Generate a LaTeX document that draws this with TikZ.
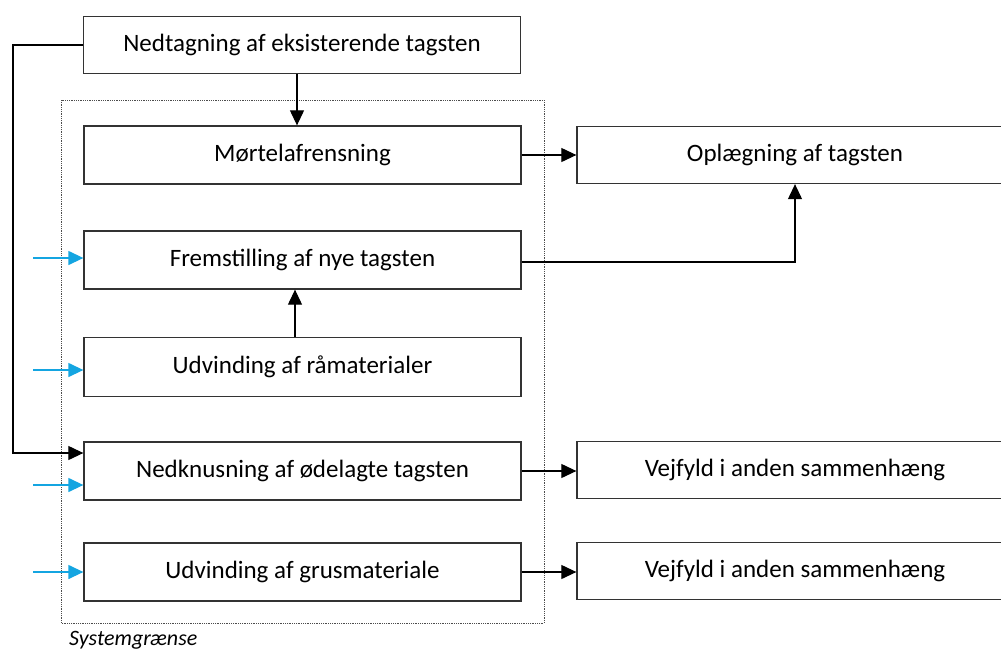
\documentclass[tikz,border=0pt]{standalone}
\usepackage{fontspec}
\setmainfont{Carlito}
\usetikzlibrary{arrows.meta}
\definecolor{inblue}{RGB}{20,165,225}
\tikzset{
  proc/.style={draw=black!80, line width=1.3pt, rectangle, inner sep=0pt, font=\fontsize{25}{30}\selectfont},
  flow/.style={draw=black, line width=1.1pt, -{Triangle[length=15pt,width=14pt]}},
  inflow/.style={draw=inblue, line width=1.3pt, -{Triangle[length=15pt,width=14pt]}},
  sysb/.style={draw=black!70, line width=0.8pt, densely dotted},
}
\begin{document}
\begin{tikzpicture}[x=1pt,y=-1pt]
\useasboundingbox (0,0) rectangle (1001,651);
\clip (0,0) rectangle (1001,651);
% system boundary
\draw[sysb] (61,100) rectangle (544,623);
\node[anchor=north west, inner sep=0pt, font=\fontsize{22}{26}\selectfont\itshape] (sg) at (69,631) {Systemgrænse};
% boxes
\node[proc, minimum width=437pt, minimum height=57pt] (ned) at (302,45) {Nedtagning af eksisterende tagsten};
\node[proc, minimum width=437pt, minimum height=58pt] (mor) at (302.5,155) {Mørtelafrensning};
\node[proc, minimum width=437pt, minimum height=58pt] (fre) at (302.5,260) {Fremstilling af nye tagsten};
\node[proc, minimum width=437pt, minimum height=59pt] (udr) at (302.5,367) {Udvinding af råmaterialer};
\node[proc, minimum width=437pt, minimum height=58pt] (nek) at (302.5,471) {Nedknusning af ødelagte tagsten};
\node[proc, minimum width=437pt, minimum height=58pt] (udg) at (302.5,572) {Udvinding af grusmateriale};
\node[proc, minimum width=436pt, minimum height=57pt] (opl) at (795,155) {Oplægning af tagsten};
\node[proc, minimum width=436pt, minimum height=57pt] (vj1) at (795,470) {Vejfyld i anden sammenhæng};
\node[proc, minimum width=436pt, minimum height=57pt] (vj2) at (795,571) {Vejfyld i anden sammenhæng};
% inputs from outside
\coordinate (l1) at (13,45);
\coordinate (l2) at (13,453);
\coordinate (b1) at (33,258);
\coordinate (b2) at (33,370);
\coordinate (b3) at (33,485);
\coordinate (b4) at (33,572);
% connectors
\draw[flow] (ned.south -| 297,0) -- (mor.north -| 297,0);
\draw[flow] (mor.east) -- (opl.west);
\draw[flow] (fre.east |- 0,262) -| (opl.south);
\draw[flow] (udr.north -| 295,0) -- (fre.south -| 295,0);
\draw[flow] (ned.west) -- (l1) -- (l2) -- (l2 -| nek.west);
\draw[flow] (nek.east) -- (vj1.west |- nek.east);
\draw[flow] (udg.east) -- (vj2.west |- udg.east);
\draw[inflow] (b1) -- (b1 -| fre.west);
\draw[inflow] (b2) -- (b2 -| udr.west);
\draw[inflow] (b3) -- (b3 -| nek.west);
\draw[inflow] (b4) -- (b4 -| udg.west);
\end{tikzpicture}
\end{document}
